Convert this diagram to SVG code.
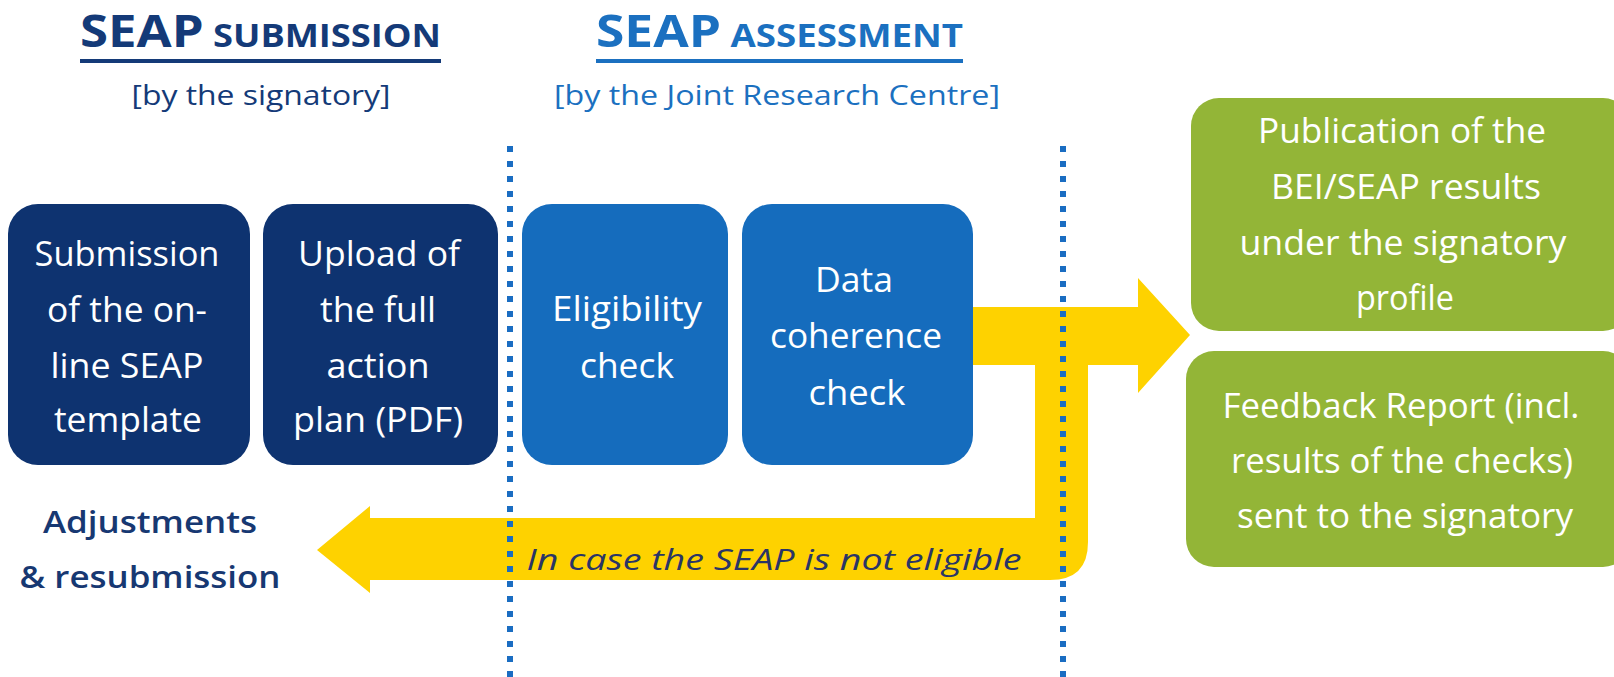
<svg xmlns="http://www.w3.org/2000/svg" width="1614" height="677" viewBox="0 0 1614 677">
<style>
.t{font-family:"Open Sans","Liberation Sans",sans-serif;}
.bx{font-family:"Open Sans","Liberation Sans",sans-serif;font-size:34px;fill:#ffffff;text-anchor:middle;}
.navy{fill:#0e3370;}
.blue{fill:#156cbd;}
.green{fill:#93b537;}
.dots{stroke:#1a6dc2;stroke-width:6;stroke-dasharray:6 9;fill:none;}
</style>
<rect width="1614" height="677" fill="#ffffff"/>

<g id="header-submission">
<text class="t" x="80" y="47" font-weight="bold" fill="#143a78" textLength="361" lengthAdjust="spacingAndGlyphs"><tspan font-size="45">SEAP</tspan><tspan font-size="32"> SUBMISSION</tspan></text>
<rect x="80" y="59" width="361" height="4" fill="#143a78"/>
<text class="t" x="261" y="105" font-size="28" fill="#143a78" text-anchor="middle" textLength="259" lengthAdjust="spacingAndGlyphs">[by the signatory]</text>
</g>

<g id="header-assessment">
<text class="t" x="596" y="47" font-weight="bold" fill="#1b70c0" textLength="367" lengthAdjust="spacingAndGlyphs"><tspan font-size="45">SEAP</tspan><tspan font-size="32"> ASSESSMENT</tspan></text>
<rect x="596" y="59" width="367" height="4" fill="#1b70c0"/>
<text class="t" x="777" y="105" font-size="28" fill="#1b70c0" text-anchor="middle" textLength="446" lengthAdjust="spacingAndGlyphs">[by the Joint Research Centre]</text>
</g>

<g id="connectors">
<path d="M973 307 L1138 307 L1138 278 L1190 335 L1138 393 L1138 365 L1088 365 L1088 542 Q1088 580 1050 580 L370 580 L370 593 L317 550 L370 506 L370 518 L1035 518 L1035 365 L973 365 Z" fill="#fed200"/>
<text class="t" x="774" y="570" font-size="30" font-style="italic" fill="#2a3566" text-anchor="middle" textLength="495" lengthAdjust="spacingAndGlyphs">In case the SEAP is not eligible</text>
</g>

<g id="dividers">
<line class="dots" x1="510" y1="146" x2="510" y2="677"/>
<line class="dots" x1="1063" y1="146" x2="1063" y2="677"/>
</g>

<g id="node-submission">
<rect class="navy" x="8" y="204" width="242" height="261" rx="30"/>
<text class="bx" x="127" y="266" textLength="185" lengthAdjust="spacingAndGlyphs">Submission</text>
<text class="bx" x="127" y="322" textLength="160" lengthAdjust="spacingAndGlyphs">of the on-</text>
<text class="bx" x="127" y="378" textLength="153" lengthAdjust="spacingAndGlyphs">line SEAP</text>
<text class="bx" x="128" y="432" textLength="148" lengthAdjust="spacingAndGlyphs">template</text>
</g>

<g id="node-upload">
<rect class="navy" x="263" y="204" width="235" height="261" rx="30"/>
<text class="bx" x="379" y="266" textLength="162" lengthAdjust="spacingAndGlyphs">Upload of</text>
<text class="bx" x="378" y="322" textLength="116" lengthAdjust="spacingAndGlyphs">the full</text>
<text class="bx" x="378" y="378" textLength="103" lengthAdjust="spacingAndGlyphs">action</text>
<text class="bx" x="378" y="432" textLength="170" lengthAdjust="spacingAndGlyphs">plan (PDF)</text>
</g>

<g id="node-eligibility">
<rect class="blue" x="522" y="204" width="206" height="261" rx="30"/>
<text class="bx" x="627" y="321" textLength="150" lengthAdjust="spacingAndGlyphs">Eligibility</text>
<text class="bx" x="627" y="378" textLength="94" lengthAdjust="spacingAndGlyphs">check</text>
</g>

<g id="node-coherence">
<rect class="blue" x="742" y="204" width="231" height="261" rx="30"/>
<text class="bx" x="854" y="292" textLength="78" lengthAdjust="spacingAndGlyphs">Data</text>
<text class="bx" x="856" y="348" textLength="172" lengthAdjust="spacingAndGlyphs">coherence</text>
<text class="bx" x="857" y="405" textLength="97" lengthAdjust="spacingAndGlyphs">check</text>
</g>

<g id="node-publication">
<rect class="green" x="1191" y="98" width="440" height="233" rx="28"/>
<text class="bx" x="1402" y="143" textLength="288" lengthAdjust="spacingAndGlyphs">Publication of the</text>
<text class="bx" x="1406" y="199" textLength="270" lengthAdjust="spacingAndGlyphs">BEI/SEAP results</text>
<text class="bx" x="1403" y="255" textLength="327" lengthAdjust="spacingAndGlyphs">under the signatory</text>
<text class="bx" x="1405" y="310" textLength="98" lengthAdjust="spacingAndGlyphs">profile</text>
</g>

<g id="node-feedback">
<rect class="green" x="1186" y="351" width="445" height="216" rx="28"/>
<text class="bx" x="1401" y="418" textLength="357" lengthAdjust="spacingAndGlyphs">Feedback Report (incl.</text>
<text class="bx" x="1402" y="473" textLength="342" lengthAdjust="spacingAndGlyphs">results of the checks)</text>
<text class="bx" x="1405" y="528" textLength="336" lengthAdjust="spacingAndGlyphs">sent to the signatory</text>
</g>

<g id="node-adjustments">
<text class="t" x="150" y="533" font-size="30" font-weight="600" fill="#173872" text-anchor="middle" textLength="214" lengthAdjust="spacingAndGlyphs">Adjustments</text>
<text class="t" x="150" y="588" font-size="30" font-weight="600" fill="#173872" text-anchor="middle" textLength="261" lengthAdjust="spacingAndGlyphs">&amp; resubmission</text>
</g>
</svg>
